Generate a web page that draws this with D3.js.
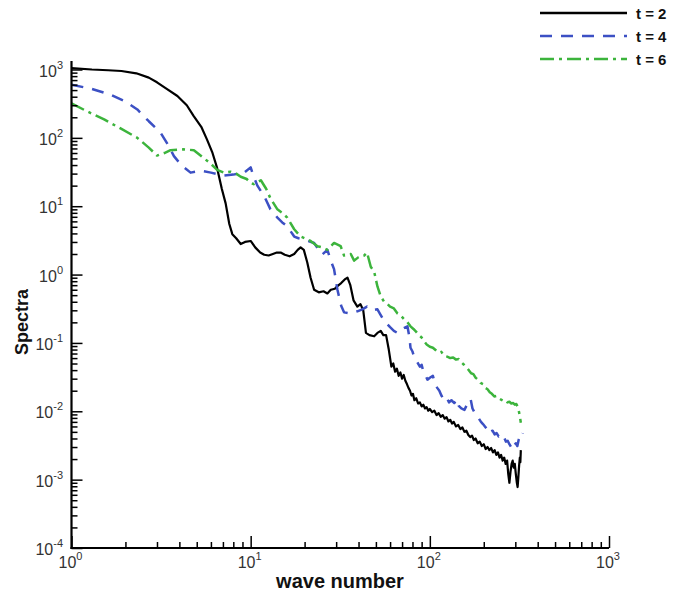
<!DOCTYPE html>
<html><head><meta charset="utf-8">
<script src="https://cdn.jsdelivr.net/npm/d3@7"></script>
<style>
html,body{margin:0;padding:0;background:#fff;}
svg{display:block;font-family:Arial,"Liberation Sans",sans-serif;}
</style></head>
<body><svg id="c" width="677" height="595"></svg>
<script>
// ---- data ----
const seriesNames = ["t = 2", "t = 4", "t = 6"];
const xTickExps = [0, 1, 2, 3];
const yTickExps = [-4, -3, -2, -1, 0, 1, 2, 3];
const xTitle = "wave number";
const yTitle = "Spectra";

const k2 = [1,1.3,1.6,1.9,2.3,2.7,3.0,3.4,3.9,4.4,4.8,5.3,5.7,6.1,6.5,6.9,7.25,7.6,7.9,8.3,8.8,9.3,10,10.6,11.3,11.9,12.6,13.3,14,14.7,15.5,16.5,17.5,18.3,19,19.8,20.7,21.6,22.6,24,25.5,26.8,28,29.5,30.5,32,33.5,34.7,36,37.5,39.4,41,42.5,44,46,48.9,51,53.2,55,57,59,
  60,61,62.5,64,65.5,67,68.5,70,71.5,73,74.5,76,77.5,79,80.5,82,84,86,88,90,92,94,96,98,100,103,106,109,112,115,118,121,124,127,130,133,136,140,144,148,152,156,160,164,168,172,176,180,185,190,195,200,205,210,215,220,225,230,235,240,245,250,255,260,265,270,274,278,282,286,290,294,298,302,306,309,312,315,318,320,322];
const s2 = [1050,1000,975,950,880,760,650,520,410,300,210,145,95,62,36,18,11,5.5,3.9,3.4,2.8,3.0,3.1,2.5,2.1,1.95,1.9,2.0,2.1,2.1,1.95,1.85,2.0,2.3,2.5,2.3,1.5,0.9,0.6,0.55,0.57,0.53,0.6,0.62,0.68,0.75,0.85,0.9,0.7,0.42,0.34,0.37,0.3,0.14,0.13,0.125,0.14,0.15,0.13,0.13,0.08,
  0.06,0.045,0.05,0.038,0.042,0.033,0.037,0.03,0.034,0.028,0.025,0.022,0.02,0.017,0.018,0.0145,0.0155,0.013,0.0135,0.0118,0.0125,0.011,0.0115,0.0102,0.0108,0.0097,0.0102,0.0088,0.0094,0.0083,0.0088,0.0078,0.0082,0.0071,0.0075,0.0066,0.007,0.006,0.0063,0.0055,0.0058,0.005,0.0052,0.0045,0.0042,0.0044,0.0038,0.004,0.0034,0.0036,0.0031,0.0033,0.0028,0.003,0.0027,0.0029,0.0025,0.0027,0.0023,0.0025,0.0021,0.0023,0.0019,0.0021,0.0017,0.0019,0.0012,0.0009,0.0013,0.0017,0.0019,0.0015,0.0017,0.0012,0.0009,0.00078,0.0011,0.0016,0.0021,0.0018,0.0027];

const k4 = [1,1.3,1.65,2.0,2.33,2.7,3.14,3.45,3.73,4.1,4.62,5.26,6.0,7.1,8.0,9.2,10,10.4,10.9,11.9,12.9,14.1,15,16,17.5,18.5,19.9,21,22.6,24,25.1,26.8,28,29.2,30.5,32,33.2,36,39.4,42,44.6,48,51,53,55.6,60,63,66,70,
  75,77,78,80,82,84,86,88,90,92,94,97,100,104,107,110,113,116,120,124,128,132,137,141,145,150,156,160,165,169,173,178,183,188,193,198,203,208,213,218,224,230,236,242,248,254,260,266,272,278,284,290,296,302,308,313,318,322,326,330];
const s4 = [600,520,430,340,260,175,119,80,54,40,31,33,31,28,29,31,37,27,20,14,9,6.8,5.8,5.1,3.6,3.4,3.25,3.1,2.9,2.3,1.96,2.3,1.6,1.2,0.6,0.35,0.28,0.27,0.29,0.31,0.34,0.3,0.31,0.26,0.21,0.17,0.15,0.14,0.16,
  0.175,0.12,0.085,0.075,0.06,0.055,0.05,0.045,0.048,0.038,0.035,0.029,0.031,0.033,0.025,0.022,0.02,0.017,0.0148,0.016,0.0135,0.0145,0.0132,0.015,0.012,0.011,0.0105,0.012,0.0145,0.015,0.011,0.0095,0.0088,0.0078,0.007,0.0065,0.006,0.0055,0.0058,0.005,0.0052,0.0046,0.0048,0.0043,0.0045,0.004,0.0041,0.0036,0.0037,0.0033,0.003,0.0035,0.0032,0.0034,0.0031,0.0038,0.0042,0.0046,0.0044,0.0048];

const k6 = [1,1.2,1.52,1.9,2.33,2.7,3.0,3.3,3.57,4.2,4.82,5.4,5.98,6.5,7.1,7.73,8.3,8.8,9.5,10,10.4,11.4,12.2,12.9,14.1,15,16,17.5,19,20,21.6,23.6,25,26.8,28,29.2,31.8,33.2,36.2,37.8,40,43,44.6,46.8,48.9,51,53.2,55.6,58,
  60,63,66,69,72,75,78,81,84,87,90,93,96,100,104,108,112,116,120,125,130,135,140,145,150,155,160,165,170,175,180,186,192,198,204,210,216,222,229,236,243,250,257,264,271,278,285,292,298,304,310,314,318,322];
const s6 = [320,250,186,135,100,72,55,60,66,68,66,52,42,34,31,32,30,27,25,22,21,24,18,13,9,8,6.8,4.6,3.6,3.4,3.1,2.6,2.5,2.3,2.6,2.9,2.6,1.9,2.0,1.6,1.8,1.9,2.1,1.3,1.1,0.67,0.48,0.4,0.37,
  0.34,0.32,0.27,0.25,0.22,0.2,0.175,0.16,0.145,0.13,0.12,0.105,0.095,0.088,0.085,0.078,0.072,0.074,0.065,0.063,0.06,0.061,0.057,0.058,0.052,0.048,0.044,0.04,0.036,0.035,0.031,0.029,0.026,0.025,0.022,0.021,0.019,0.018,0.0165,0.0168,0.0155,0.0148,0.0142,0.0145,0.0135,0.0138,0.013,0.0132,0.0125,0.0128,0.0115,0.01,0.0085,0.0068];

const seriesK = [k2, k4, k6];
const seriesS = [s2, s4, s6];
const colors = ["#000000", "#3c50c4", "#3cb43c"];
const dashes = [null, "12,9", "14,5,3,5"];
const widths = [2.2, 2.5, 2.5];

// ---- drawing ----
const svg = d3.select("#c");
const x = d3.scaleLog().domain([1, 1000]).range([71.5, 609]);
const y = d3.scaleLog().domain([1e-4, 1e3]).range([548, 69.5]);

const line = d3.line().x(d => x(d[0])).y(d => y(d[1]));
seriesK.forEach((ks, i) => {
  const pts = ks.map((k, j) => [k, seriesS[i][j]]);
  svg.append("path").datum(pts).attr("d", line)
    .attr("fill", "none").attr("stroke", colors[i])
    .attr("stroke-width", widths[i])
    .attr("stroke-linejoin", "round")
    .attr("stroke-dasharray", dashes[i]);
});

// minor tick values
const minorX = [], minorY = [];
for (let e = 0; e < 3; e++) for (let m = 2; m <= 9; m++) minorX.push(m * Math.pow(10, e));
for (let e = -4; e < 3; e++) for (let m = 2; m <= 9; m++) minorY.push(m * Math.pow(10, e));

const gx = svg.append("g").attr("transform", "translate(0,548)");
gx.call(d3.axisBottom(x).tickValues(minorX).tickSize(-6).tickFormat(""));
gx.append("g").call(d3.axisBottom(x).tickValues(xTickExps.map(e => Math.pow(10, e))).tickSize(-12).tickFormat(""));
gx.selectAll(".domain").remove();
gx.selectAll("line").attr("stroke", "#000").attr("stroke-width", 1.5);

const gy = svg.append("g").attr("transform", "translate(71.5,0)");
gy.call(d3.axisLeft(y).tickValues(minorY).tickSize(-6).tickFormat(""));
gy.append("g").call(d3.axisLeft(y).tickValues(yTickExps.map(e => Math.pow(10, e))).tickSize(-11).tickFormat(""));
gy.selectAll(".domain").remove();
gy.selectAll("line").attr("stroke", "#000").attr("stroke-width", 1.5);

// axis lines
svg.append("line").attr("x1", 71.5).attr("x2", 71.5).attr("y1", 61).attr("y2", 549)
  .attr("stroke", "#000").attr("stroke-width", 2.2);
svg.append("line").attr("x1", 70.5).attr("x2", x(1000)).attr("y1", 548).attr("y2", 548)
  .attr("stroke", "#000").attr("stroke-width", 2.2);

// tick labels
const labColor = "#333";
xTickExps.forEach(e => {
  const t = svg.append("text").attr("x", x(Math.pow(10, e)) - 1).attr("y", 568)
    .attr("text-anchor", "middle").attr("fill", labColor).attr("font-size", 16);
  t.append("tspan").text("10");
  t.append("tspan").attr("dy", -8).attr("font-size", 11).text(String(e));
});
yTickExps.forEach(e => {
  const t = svg.append("text").attr("x", 63).attr("y", y(Math.pow(10, e)) + 7)
    .attr("text-anchor", "end").attr("fill", labColor).attr("font-size", 16);
  t.append("tspan").text("10");
  t.append("tspan").attr("dy", -8).attr("font-size", 11).text(String(e));
});

// titles
svg.append("text").attr("x", 340).attr("y", 588).attr("text-anchor", "middle")
  .attr("font-weight", "bold").attr("font-size", 20).attr("fill", "#111").text(xTitle);
svg.append("text").attr("transform", "translate(28,322) rotate(-90)").attr("text-anchor", "middle")
  .attr("font-weight", "bold").attr("font-size", 18).attr("fill", "#111").text(yTitle);

// legend
const legY = [13, 36, 59];
seriesNames.forEach((n, i) => {
  svg.append("line").attr("x1", 540).attr("x2", 627).attr("y1", legY[i]).attr("y2", legY[i])
    .attr("stroke", colors[i]).attr("stroke-width", widths[i] + 0.2)
    .attr("stroke-dasharray", dashes[i]);
  svg.append("text").attr("x", 636).attr("y", legY[i] + 6).attr("font-weight", "bold")
    .attr("font-size", 15).attr("fill", "#111").text(n);
});
</script></body></html>
